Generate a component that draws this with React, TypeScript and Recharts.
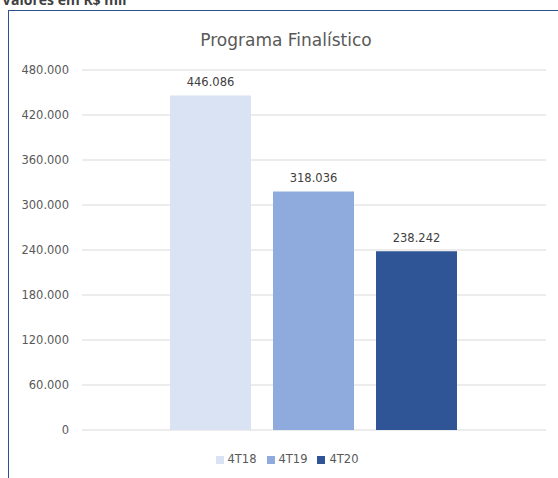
import { BarChart, Bar, XAxis, YAxis, CartesianGrid, Legend, LabelList } from 'recharts';

const categories = ['Programa Finalístico'];
const series = ['4T18', '4T19', '4T20'];
const values = [446086, 318036, 238242];
const yTicks = [0, 60000, 120000, 180000, 240000, 300000, 360000, 420000, 480000];

const COLORS = ['#dae3f3', '#8faadc', '#2f5597'];
const FONT = '"DejaVu Sans", sans-serif';

const data = categories.map((name) => {
    const row: Record<string, string | number> = { name };
    series.forEach((s, i) => {
        row[s] = values[i];
    });
    return row;
});

const fmt = (v: number) => (v === 0 ? '0' : v.toLocaleString('de-DE'));

export default function App() {
    return (
        <div style={{ position: 'absolute', left: 0, top: 0, width: 558, height: 478, overflow: 'hidden', background: '#fff', fontFamily: FONT }}>
            <div style={{ position: 'absolute', left: 2, top: -7, fontSize: 14, lineHeight: '14px', fontWeight: 'bold', color: '#404040', fontFamily: '"Open Sans", sans-serif' }}>
                Valores em R$ mil
            </div>
            <div style={{ position: 'absolute', left: 8, top: 10, width: 600, height: 500, borderLeft: '1.5px solid #2f4f8f', borderTop: '1.5px solid #2f4f8f' }} />
            <div style={{ position: 'absolute', left: 0, top: 30, width: 558, textAlign: 'center', fontSize: 17, color: '#595959', paddingLeft: 14, boxSizing: 'border-box' }}>
                Programa Finalístico
            </div>
            <div style={{ position: 'absolute', left: 0, top: 0 }}>
                <BarChart
                    width={558}
                    height={478}
                    data={data}
                    margin={{ top: 70, right: 12, left: 22, bottom: 34 }}
                    barCategoryGap={88}
                    barGap={22}
                >
                    <CartesianGrid vertical={false} stroke="#d9d9d9" />
                    <XAxis dataKey="name" tick={false} tickLine={false} axisLine={{ stroke: '#d9d9d9' }} height={0} />
                    <YAxis
                        domain={[0, 480000]}
                        ticks={yTicks}
                        width={60}
                        axisLine={false}
                        tickLine={false}
                        tickMargin={7}
                        tickFormatter={fmt}
                        tick={{ fill: '#595959', fontSize: 11.5, fontFamily: FONT }}
                        interval={0}
                    />
                    <Legend
                        iconType="square"
                        iconSize={8}
                        wrapperStyle={{ left: 0, width: 584, top: 452, fontSize: 11.5, fontFamily: FONT }}
                        formatter={(v: string) => <span style={{ color: '#595959' }}>{v}</span>}
                    />
                    {series.map((s, i) => (
                        <Bar key={s} dataKey={s} fill={COLORS[i]} isAnimationActive={false}>
                            <LabelList dataKey={s} position="top" offset={9} formatter={(v: number) => fmt(v)} fill="#404040" fontSize={11.5} fontFamily={FONT} />
                        </Bar>
                    ))}
                </BarChart>
            </div>
        </div>
    );
}
